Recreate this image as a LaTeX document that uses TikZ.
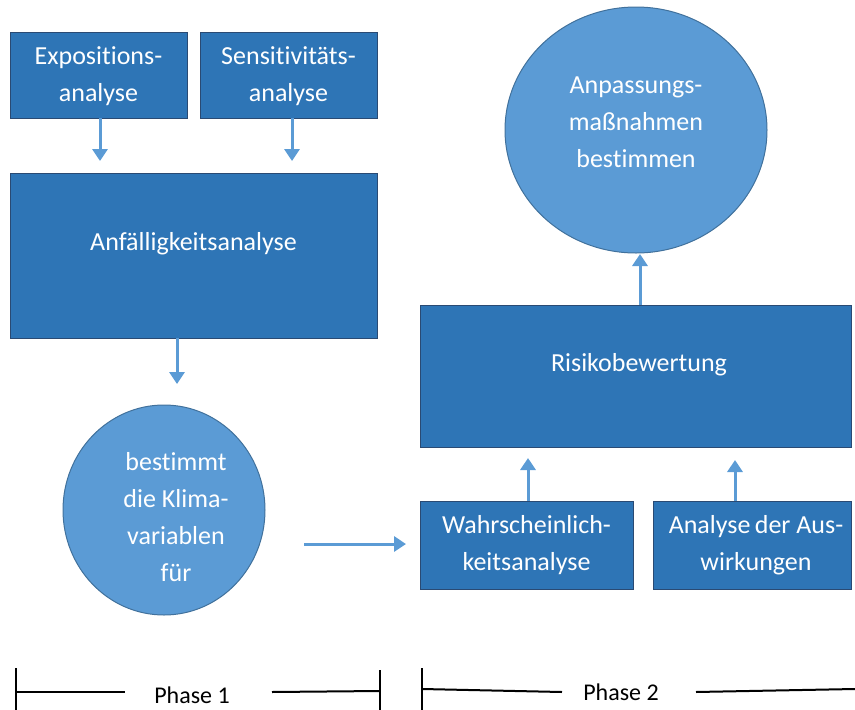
\documentclass[tikz,border=0pt]{standalone}
\usepackage{fontspec}
\setmainfont{Carlito}[Ligatures=NoCommon]
\usetikzlibrary{arrows.meta,shapes.geometric}
\definecolor{boxblue}{HTML}{2E75B6}
\definecolor{boxedge}{HTML}{2A4A73}
\definecolor{circblue}{HTML}{5B9BD5}
\definecolor{circedge}{HTML}{41719C}
\definecolor{arrblue}{HTML}{5B9BD5}
\tikzset{
  boxnode/.style={rectangle, fill=boxblue, draw=boxedge, line width=0.9pt, inner sep=0pt},
  circnode/.style={ellipse, fill=circblue, draw=circedge, line width=1pt, inner sep=0pt},
  wtext/.style={text=white, align=center, inner sep=0pt, font=\fontsize{26}{37}\selectfont},
  arr/.style={draw=arrblue, line width=3pt, -{Triangle[width=15pt,length=12pt]}},
  phaseline/.style={draw=black, line width=2pt},
  phasetext/.style={font=\fontsize{24}{26}\selectfont, text=black, inner sep=0pt}
}
\begin{document}
\begin{tikzpicture}[x=1pt,y=-1pt]
\useasboundingbox (0,0) rectangle (855,710);
\node[boxnode, minimum width=177pt, minimum height=86pt] (expo) at (98.5,75) {};
\node[wtext] (expot) at (98.5,76) {Expositions-\\analyse};
\node[boxnode, minimum width=177pt, minimum height=86pt] (sens) at (288.5,75) {};
\node[wtext] (senst) at (288.5,76) {Sensitivitäts-\\analyse};
\node[boxnode, minimum width=367pt, minimum height=165pt] (anf) at (193.5,255.5) {};
\node[wtext] (anft) at (193.5,244) {Anfälligkeitsanalyse};
\node[circnode, minimum width=202pt, minimum height=210pt] (klima) at (164,510) {};
\node[wtext] (klimat) at (176,517) {bestimmt\\die Klima-\\variablen\\für};
\node[boxnode, minimum width=213pt, minimum height=88pt] (wahr) at (526.5,545) {};
\node[wtext] (wahrt) at (526.5,545) {Wahrscheinlich-\\keitsanalyse};
\node[boxnode, minimum width=198pt, minimum height=88pt] (ausw) at (752,545) {};
\node[wtext] (auswt) at (756,545) {Analyse\,der Aus-\\wirkungen};
\node[boxnode, minimum width=431pt, minimum height=142pt] (risk) at (635.5,376) {};
\node[wtext] (riskt) at (639,365) {Risikobewertung};
\node[circnode, minimum width=262pt, minimum height=246pt] (anp) at (636,130) {};
\node[wtext] (anpt) at (636,122) {Anpassungs-\\maßnahmen\\bestimmen};

\coordinate (e1) at (100,161);
\coordinate (e2) at (292,161);
\coordinate (e3) at (177,384);
\coordinate (s4) at (304,544);
\coordinate (e4) at (406,544);
\coordinate (e5) at (528,458);
\coordinate (e6) at (735,460);
\coordinate (e7) at (640,254);

\draw[arr] (expo.south -| e1) -- (e1);
\draw[arr] (sens.south -| e2) -- (e2);
\draw[arr] (anf.south -| e3) -- (e3);
\draw[arr] (s4) -- (e4);
\draw[arr] (wahr.north -| e5) -- (e5);
\draw[arr] (ausw.north -| e6) -- (e6);
\draw[arr] (risk.north -| e7) -- (e7);

\node[phasetext] (p1) at (192,695) {Phase 1};
\node[phasetext] (p2) at (621,692) {Phase 2};
\coordinate (t1a) at (16,668); \coordinate (t1b) at (16,710);
\coordinate (t2a) at (380,670); \coordinate (t2b) at (380,710);
\coordinate (t3a) at (422,668); \coordinate (t3b) at (422,710);
\draw[phaseline] (t1a) -- (t1b);
\draw[phaseline] (t2a) -- (t2b);
\draw[phaseline] (t3a) -- (t3b);
\coordinate (l1a) at (16,692); \coordinate (l1b) at (125,692);
\coordinate (l2a) at (272,692); \coordinate (l2b) at (380,691);
\coordinate (l3a) at (422,689); \coordinate (l3b) at (562,692);
\coordinate (l4a) at (696,692); \coordinate (l4b) at (855,689);
\draw[phaseline] (l1a) -- (l1b);
\draw[phaseline] (l2a) -- (l2b);
\draw[phaseline] (l3a) -- (l3b);
\draw[phaseline] (l4a) -- (l4b);
\end{tikzpicture}
\end{document}
